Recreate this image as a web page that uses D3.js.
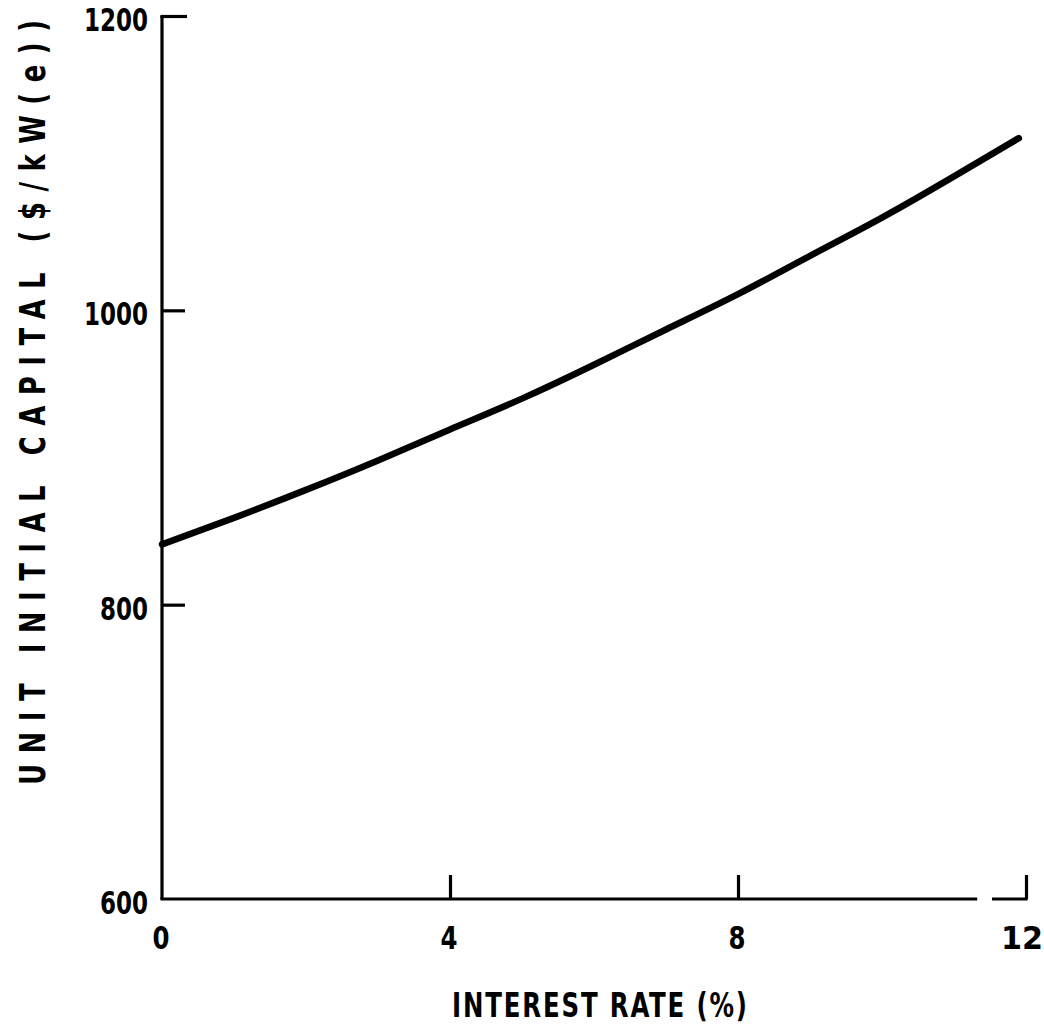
<!DOCTYPE html>
<html>
<head>
<meta charset="utf-8">
<script src="https://cdn.jsdelivr.net/npm/d3@7"></script>
<style>
  html, body { margin: 0; padding: 0; background: #fff; }
  svg { display: block; }
  text { font-family: "DejaVu Sans Condensed", "DejaVu Sans", sans-serif; font-weight: bold; fill: #000; }
</style>
</head>
<body>
<svg id="chart" width="1044" height="1024"></svg>
<script>
// Data
const interestRate = [0, 1, 2, 3, 4, 5, 6, 7, 8, 9, 10, 11, 11.9];
const unitCapital  = [841, 859, 878, 898, 919, 940, 963, 987, 1011, 1037, 1063, 1091, 1117];
const xTicks = [0, 4, 8, 12];
const yTicks = [600, 800, 1000, 1200];
const xTitle = "INTEREST RATE (%)";
const yTitle = "UNIT INITIAL CAPITAL ($/kW(e))";
const axisBreak = [11.3, 11.55];

const svg = d3.select("#chart");
const x = d3.scaleLinear().domain([0, 12]).range([162, 1026]);
const y = d3.scaleLinear().domain([600, 1200]).range([899, 16]);

// Y axis
const yAxis = svg.append("g").attr("transform", `translate(${x(0)},0)`)
  .call(d3.axisRight(y).tickValues(yTicks).tickSize(23).tickFormat(""));
yAxis.select(".domain").attr("d", `M0,${y(600)}V${y(1200)}`).attr("stroke-width", 3.2).attr("stroke", "#000");
yAxis.selectAll(".tick line").attr("stroke-width", 3.2).attr("stroke", "#000");
yAxis.selectAll(".tick").filter(d => d === 600).select("line").remove();
yAxis.selectAll(".tick").filter(d => d === 1200).select("line").attr("x2", 25).attr("x1", -1.6);

svg.append("g").selectAll("text").data(yTicks).join("text")
  .attr("x", 148).attr("y", d => y(d) + 15)
  .attr("text-anchor", "end")
  .attr("font-size", 32)
  .attr("textLength", d => String(d).length * 16).attr("lengthAdjust", "spacingAndGlyphs")
  .text(d => d);

// X axis (with break)
const xAxis = svg.append("g").attr("transform", `translate(0,${y(600)})`)
  .call(d3.axisTop(x).tickValues(xTicks.filter(d => d > 0)).tickSize(24).tickFormat(""));
xAxis.select(".domain").remove();
xAxis.selectAll(".tick line").attr("stroke-width", 3.2).attr("stroke", "#000");
const segs = [[0, axisBreak[0]], [axisBreak[1], 12]];
xAxis.selectAll("line.seg").data(segs).join("line").attr("class", "seg")
  .attr("x1", d => x(d[0]) - 1.6).attr("x2", d => x(d[1]) + 1.6)
  .attr("y1", 0).attr("y2", 0)
  .attr("stroke", "#000").attr("stroke-width", 3.2);

svg.append("g").selectAll("text").data(xTicks).join("text")
  .attr("x", d => x(d) + (d === 12 ? -4 : -1)).attr("y", 949)
  .attr("text-anchor", "middle")
  .attr("font-size", 32)
  .attr("textLength", d => String(d).length === 1 ? 17 : 42).attr("lengthAdjust", "spacingAndGlyphs")
  .text(d => d);

// Curve
const pts = interestRate.map((d, i) => [d, unitCapital[i]]);
svg.append("path").datum(pts)
  .attr("fill", "none").attr("stroke", "#000").attr("stroke-width", 6.5)
  .attr("stroke-linecap", "round")
  .attr("d", d3.line().x(d => x(d[0])).y(d => y(d[1])).curve(d3.curveNatural));

// Titles
svg.append("text")
  .attr("transform", "translate(452,1017) scale(0.8,1)")
  .attr("font-size", 34)
  .attr("textLength", 295 / 0.8).attr("lengthAdjust", "spacing")
  .text(xTitle);

svg.append("text")
  .attr("transform", "translate(45,785) rotate(-90) scale(0.8,1)")
  .attr("font-size", 36)
  .attr("textLength", 765 / 0.8).attr("lengthAdjust", "spacing")
  .text(yTitle);
</script>
</body>
</html>
